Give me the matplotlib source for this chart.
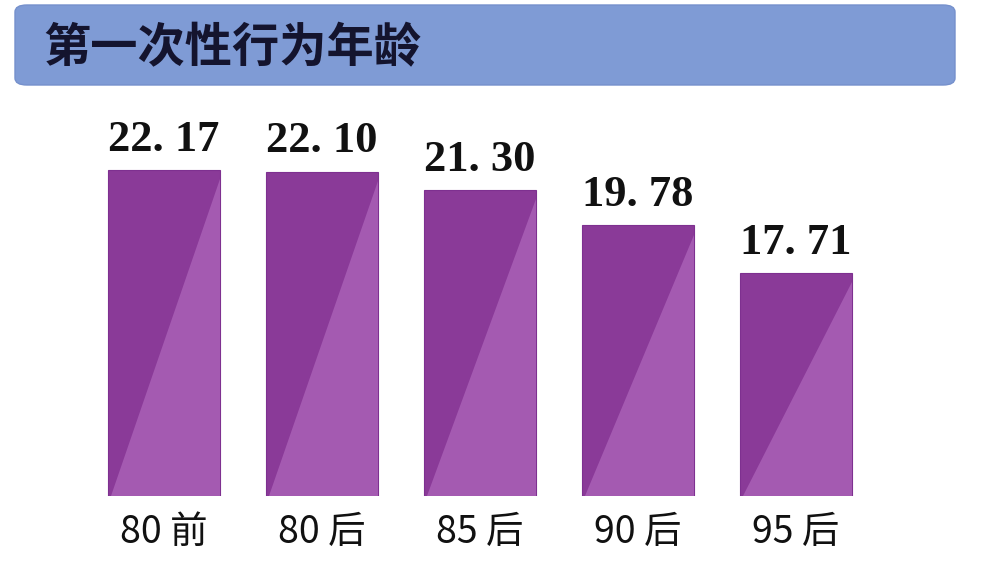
import matplotlib
matplotlib.use('Agg')
import matplotlib.pyplot as plt
from matplotlib.patches import FancyBboxPatch, Polygon

plt.rcParams['font.family'] = ['Noto Sans CJK SC', 'DejaVu Sans']

title = "第一次性行为年龄"
categories = ["80 前", "80 后", "85 后", "90 后", "95 后"]
values = [22.17, 22.10, 21.30, 19.78, 17.71]
value_labels = ["22. 17", "22. 10", "21. 30", "19. 78", "17. 71"]

base = 8.06
dark = '#8a3a98'
light = '#a65cb3'

fig = plt.figure(figsize=(9.9, 5.76), dpi=100)
fig.patch.set_facecolor('white')

# title banner
banner = FancyBboxPatch((15 / 990, 491 / 576), 940 / 990, 80 / 576,
                        boxstyle="round,pad=0,rounding_size=0.012",
                        transform=fig.transFigure, facecolor='#7f9bd5',
                        edgecolor='#7590cc', linewidth=1)
fig.patches.append(banner)
fig.text(43 / 990, 528 / 576, title, fontsize=34, fontweight='bold',
         color='#14142e', va='center', ha='left')

ax = fig.add_axes([85 / 990, 80 / 576, 790 / 990, 396 / 576])
x = range(len(categories))
bars = ax.bar(x, [v - base for v in values], bottom=base, width=0.709,
              color=dark, edgecolor='#7e3090', linewidth=0.8)

for b, lab in zip(bars, value_labels):
    x0, y0 = b.get_x(), b.get_y()
    w, h = b.get_width(), b.get_height()
    # lighter triangle from top-right corner down to bottom-left
    tri = Polygon([(x0 + w, y0 + h - 0.4), (x0 + w, y0), (x0 + 0.02, y0)],
                  closed=True, facecolor=light, edgecolor='none', alpha=0.95)
    ax.add_patch(tri)
    ax.text(x0 + w / 2, y0 + h + 0.45, lab, ha='center', va='bottom',
            fontsize=32, fontfamily='Liberation Serif', fontweight='bold',
            color='#111111')

ax.set_xlim(-0.5, len(categories) - 0.5)
ax.set_ylim(base, base + 396 / 23.1)
ax.set_xticks(list(x))
ax.set_xticklabels(categories, fontsize=27, color='#111111')
ax.tick_params(axis='x', length=0, pad=12)
ax.set_yticks([])
for s in ax.spines.values():
    s.set_visible(False)
ax.set_facecolor('none')

plt.savefig('out.png', dpi=100)
print("Saved: out.png")
